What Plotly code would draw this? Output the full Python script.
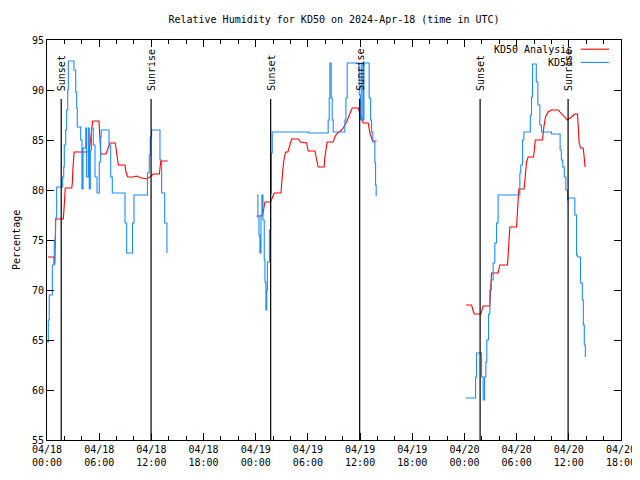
import pandas as pd
import plotly.graph_objects as go

# ---------------- data ----------------
base_time = "2024-04-18 00:00"

# KD50 observations (hours after 04/18 00:00 UTC, relative humidity %), step series
kd50_hours_1 = [0.00, 0.15, 0.26, 0.61, 0.84, 0.98, 1.11, 1.80, 1.92, 1.99, 2.15, 2.26, 2.38, 2.45,
                3.10, 3.30, 3.41, 3.48, 3.87, 4.02, 4.14, 4.45, 4.54, 4.75, 4.86, 4.98, 5.11, 5.32,
                5.52, 5.75, 6.01, 6.17, 6.24, 7.13, 7.32, 7.51, 8.97, 9.16, 9.83, 10.00, 11.55,
                11.76, 11.87, 12.03, 12.99, 13.18, 13.53, 13.79]
kd50_values_1 = [64.8, 67.0, 69.5, 72.5, 75.0, 77.2, 80.3, 81.3, 82.3, 84.5, 86.0, 88.0, 90.0, 92.9,
                 92.0, 89.8, 88.2, 86.3, 85.0, 80.1, 84.2, 86.2, 81.3, 86.2, 80.1, 84.0, 86.2, 84.5,
                 81.3, 79.7, 82.8, 85.3, 86.0, 84.5, 81.3, 79.7, 76.7, 73.7, 76.7, 79.5, 81.7,
                 83.5, 85.3, 86.0, 83.0, 79.7, 76.7, 73.7]

kd50_hours_2 = [24.14, 24.25, 24.37, 24.48, 24.60, 24.71, 24.83, 24.98, 25.06, 25.17, 25.26, 25.34,
                25.57, 25.71, 25.80, 25.90, 30.11, 32.33, 32.45, 32.53, 32.68, 32.79, 32.91, 34.25,
                34.37, 34.52, 35.90, 36.01, 36.13, 36.32, 36.44, 37.04, 37.21, 37.32, 37.47, 37.70,
                37.78, 37.85]
kd50_values_2 = [79.5, 77.3, 75.5, 73.7, 77.5, 79.5, 77.0, 73.0, 70.8, 68.0, 70.0, 72.8,
                 76.0, 79.7, 83.7, 85.8, 85.7, 87.0, 89.2, 92.7, 89.2, 87.0, 85.8, 87.0,
                 89.2, 92.7, 89.5, 87.0, 92.7, 87.0, 92.7, 89.2, 87.0, 85.8, 84.8, 82.7,
                 80.5, 79.4]

kd50_hours_3 = [48.16, 49.28, 49.39, 49.97, 50.15, 50.31, 50.46, 50.57, 50.77, 50.92, 51.09, 51.30,
                51.49, 51.69, 51.87, 54.37, 54.48, 54.68, 54.83, 55.57, 55.71, 55.83, 56.26, 56.44,
                56.67, 56.86, 58.01, 59.00, 59.14, 59.31, 59.48, 59.66, 59.85, 59.92, 60.69, 60.89,
                61.00, 61.34, 61.55, 61.67, 61.78, 61.90]
kd50_values_3 = [59.2, 61.3, 63.7, 61.3, 59.0, 61.3, 62.8, 65.0, 67.6, 70.0, 71.0, 72.7,
                 74.7, 76.7, 79.5, 81.7, 82.5, 85.0, 85.8, 87.5, 89.3, 92.6, 90.8, 88.5,
                 86.5, 85.8, 85.6, 84.0, 83.0, 82.3, 81.3, 80.0, 79.0, 79.2, 77.5, 73.5,
                 73.3, 70.7, 69.0, 66.5, 64.5, 63.3]

# KD50 Analysis
ana_hours_1 = [0.10, 0.80, 0.82, 0.90, 1.00, 1.88, 2.00, 2.10, 2.85, 2.92, 2.97, 3.12, 4.85, 4.94,
               5.14, 5.25, 5.98, 6.10, 6.18, 6.78, 7.24, 7.85, 8.02, 8.20, 8.97, 9.08, 9.28, 9.92,
               10.30, 10.88, 11.53, 11.85, 12.22, 12.92, 13.08, 13.87]
ana_values_1 = [73.3, 73.3, 72.6, 72.6, 77.1, 77.1, 78.7, 80.2, 80.2, 80.8, 82.0, 83.8, 83.8, 84.5,
                86.3, 86.9, 86.9, 84.5, 83.6, 83.6, 84.7, 84.7, 83.5, 82.5, 82.5, 81.8, 81.3, 81.3,
                81.4, 81.2, 81.1, 81.3, 81.6, 81.6, 82.9, 82.9]

ana_hours_2 = [24.10, 24.75, 24.86, 25.06, 25.71, 25.92, 26.13, 26.90, 26.98, 27.09, 27.24, 27.44,
               27.70, 27.93, 28.13, 28.89, 29.16, 29.85, 30.03, 30.80, 31.00, 31.18, 31.87, 31.95,
               32.22, 32.91, 33.10, 33.30, 33.87, 34.06, 34.45, 34.63, 34.83, 35.09, 35.78, 36.06,
               36.36, 36.93, 37.13, 37.44, 37.90]
ana_values_2 = [77.4, 77.4, 77.8, 78.8, 78.8, 79.3, 79.7, 79.7, 80.8, 81.8, 83.0, 83.8,
                83.8, 84.5, 85.1, 85.1, 84.8, 84.7, 83.9, 83.9, 83.2, 82.3, 82.3, 83.3,
                84.8, 84.8, 85.3, 85.6, 86.0, 86.2, 86.8, 87.2, 87.6, 88.2, 88.2, 87.5,
                86.7, 86.7, 85.7, 84.9, 84.9]

ana_hours_3 = [48.16, 48.82, 48.97, 49.12, 49.89, 50.15, 50.92, 51.03, 51.11, 51.87, 52.07, 52.95,
               53.10, 53.22, 53.99, 54.10, 54.25, 54.86, 55.14, 55.32, 55.94, 56.15, 56.98, 57.13,
               57.32, 57.62, 58.01, 58.77, 59.34, 59.83, 60.31, 60.69, 61.00, 61.09, 61.18, 61.34,
               61.64, 61.72, 61.87]
ana_values_3 = [68.5, 68.5, 68.0, 67.6, 67.6, 68.4, 68.4, 70.5, 71.7, 71.7, 72.5, 72.5,
                74.7, 76.3, 76.3, 78.5, 80.1, 80.1, 82.8, 83.3, 83.3, 85.0, 85.0, 86.3,
                87.3, 87.8, 88.0, 88.0, 87.5, 87.0, 87.3, 87.6, 87.6, 86.3, 84.8, 84.2,
                84.2, 83.7, 82.3]

sunset_times = ["2024-04-18 01:38", "2024-04-19 01:43", "2024-04-20 01:48"]
sunrise_times = ["2024-04-18 11:58", "2024-04-19 11:57", "2024-04-20 11:55"]
sun_marker_top = 89.1

x_tick_values = ["2024-04-18 00:00", "2024-04-18 06:00", "2024-04-18 12:00", "2024-04-18 18:00",
                 "2024-04-19 00:00", "2024-04-19 06:00", "2024-04-19 12:00", "2024-04-19 18:00",
                 "2024-04-20 00:00", "2024-04-20 06:00", "2024-04-20 12:00", "2024-04-20 18:00"]
x_tick_labels = ["04/18<br>00:00", "04/18<br>06:00", "04/18<br>12:00", "04/18<br>18:00",
                 "04/19<br>00:00", "04/19<br>06:00", "04/19<br>12:00", "04/19<br>18:00",
                 "04/20<br>00:00", "04/20<br>06:00", "04/20<br>12:00", "04/20<br>18:00"]
y_tick_values = [55, 60, 65, 70, 75, 80, 85, 90, 95]

title_text = "Relative Humidity for KD50 on 2024-Apr-18 (time in UTC)"
y_title = "Percentage"
series_names = ["KD50 Analysis", "KD50"]

# ---------------- figure ----------------
FONT = "DejaVu Sans Mono"
RED = "#ff0000"
BLUE = "#1e8cff"
LW = 1.1

# the page body has an 8px margin; size the figure so the plot sits where the reference has it
FIG_W, FIG_H = 632, 472

t0 = pd.Timestamp(base_time)


def to_time(hours):
    return [t0 + pd.Timedelta(hours=h) for h in hours]


fig = go.Figure()

for hrs, vals in [(ana_hours_1, ana_values_1), (ana_hours_2, ana_values_2), (ana_hours_3, ana_values_3)]:
    fig.add_trace(go.Scatter(x=to_time(hrs), y=vals, mode="lines", name=series_names[0],
                             line=dict(color=RED, width=LW), showlegend=False))

for hrs, vals in [(kd50_hours_1, kd50_values_1), (kd50_hours_2, kd50_values_2), (kd50_hours_3, kd50_values_3)]:
    fig.add_trace(go.Scatter(x=to_time(hrs), y=vals, mode="lines", name=series_names[1],
                             line=dict(color=BLUE, width=LW, shape="hv"), showlegend=False))

for label, times in [("Sunset", sunset_times), ("Sunrise", sunrise_times)]:
    for t in times:
        fig.add_shape(type="line", xref="x", yref="y", x0=t, x1=t, y0=55, y1=sun_marker_top,
                      line=dict(color="black", width=1.2), layer="above")
        fig.add_annotation(x=t, y=sun_marker_top + 0.6, xref="x", yref="y", text=label,
                           textangle=-90, showarrow=False, xanchor="center", yanchor="bottom",
                           font=dict(family=FONT, size=10, color="black"))

# legend drawn gnuplot-style: text then line sample
legend_rows = [(series_names[0], RED, 0.977), (series_names[1], BLUE, 0.944)]
for name, col, yp in legend_rows:
    fig.add_annotation(x=0.918, y=yp, xref="paper", yref="paper", text=name, showarrow=False,
                       xanchor="right", yanchor="middle",
                       font=dict(family=FONT, size=10, color="black"))
    fig.add_shape(type="line", xref="paper", yref="paper", x0=0.930, x1=0.979, y0=yp, y1=yp,
                  line=dict(color=col, width=LW))

fig.add_annotation(x=-0.0540, y=0.5, xref="paper", yref="paper", text=y_title, textangle=-90,
                   showarrow=False, xanchor="center", yanchor="middle",
                   font=dict(family=FONT, size=10, color="black"))

fig.update_layout(
    width=FIG_W, height=FIG_H,
    margin=dict(l=39, r=19, t=32, b=40, autoexpand=False),
    paper_bgcolor="white", plot_bgcolor="white",
    title=dict(text=title_text, x=0.5, xref="paper", xanchor="center", y=1 - 11 / FIG_H,
               yanchor="middle", font=dict(family=FONT, size=10, color="black"),
               automargin=False),
    font=dict(family=FONT, size=10, color="black"),
    showlegend=False,
)

fig.update_xaxes(
    type="date", range=[x_tick_values[0], x_tick_values[-1]], automargin=False,
    tickmode="array", tickvals=x_tick_values, ticktext=x_tick_labels,
    ticks="inside", ticklen=7, tickcolor="black", tickwidth=1,
    showline=True, linecolor="black", linewidth=1, mirror="ticks",
    showgrid=False, zeroline=False,
    minor=dict(tickmode="linear", tick0=x_tick_values[0], dtick=2 * 3600 * 1000,
               ticks="inside", ticklen=4, tickcolor="black", showgrid=False),
    tickfont=dict(family=FONT, size=10, color="black"),
)
fig.update_yaxes(
    range=[55, 95], tickmode="array", tickvals=y_tick_values, automargin=False,
    ticks="inside", ticklen=7, tickcolor="black", tickwidth=1,
    showline=True, linecolor="black", linewidth=1, mirror="ticks",
    showgrid=False, zeroline=False,
    tickfont=dict(family=FONT, size=10, color="black"),
)

fig.write_html("out.html")
